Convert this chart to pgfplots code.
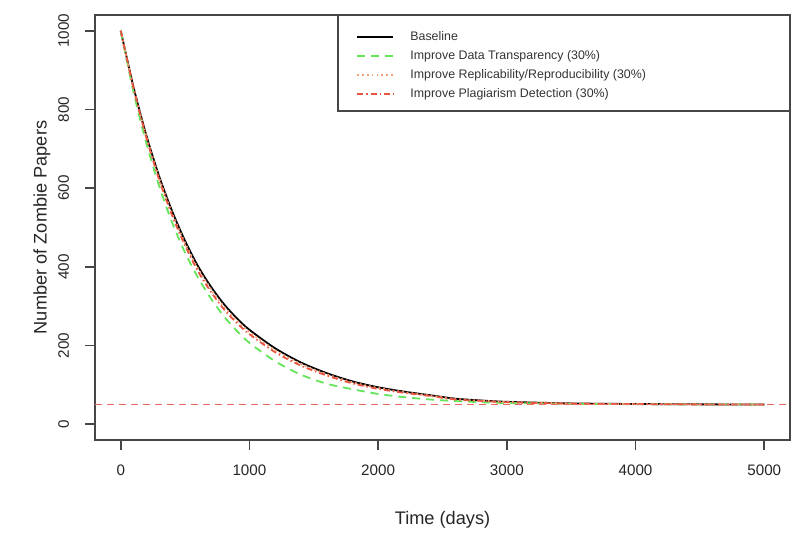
\documentclass[border=0pt]{standalone}
\usepackage{pgfplots}
\pgfplotsset{compat=1.18}
\usepackage{fontspec}
\setmainfont{Liberation Sans}
\definecolor{boxgray}{RGB}{70,70,70}
\definecolor{cgreen}{RGB}{100,228,90}
\definecolor{corange}{RGB}{248,160,115}
\definecolor{cred}{RGB}{232,85,65}
\definecolor{chline}{RGB}{236,105,100}

\begin{document}
\begin{tikzpicture}
\path[use as bounding box] (-47.5pt,-47pt) rectangle (348.5pt,220pt);
\begin{axis}[
  at={(0,0)}, anchor=south west,
  scale only axis, width=347.5pt, height=212.5pt,
  xmin=-200, xmax=5200, ymin=-40, ymax=1040,
  axis line style={boxgray, line width=0.8pt},
  tick style={boxgray, line width=0.8pt},
  tick align=outside, major tick length=5pt,
  xtick pos=lower, ytick pos=left,
  xtick={0,1000,2000,3000,4000,5000},
  ytick={0,200,400,600,800,1000},
  /pgf/number format/assume math mode=true,
  /pgf/number format/set thousands separator={},
  ticklabel style={font=\fontsize{7.6}{9}\selectfont, text=black!85},
  xticklabel style={yshift=-4pt},
  yticklabel style={rotate=90, anchor=south},
  yticklabel shift=4.5pt,
  xlabel={Time (days)},
  ylabel={Number of Zombie Papers},
  label style={font=\fontsize{9.1}{10}\selectfont, text=black!85},
  xlabel style={at={(axis description cs:0.5,-0.188)}, anchor=center},
  ylabel style={at={(axis description cs:-0.0763,0.5)}, anchor=center, rotate=0},
  legend style={draw=none, fill=none, inner sep=0pt,
    at={(axis description cs:0.3755,0.964)}, anchor=north west,
    font=\fontsize{6.2}{7}\selectfont, text=black!80,
    nodes={inner sep=0pt, text height=4.7pt, text depth=1.3pt},
    row sep=3.5pt, column sep=8pt},
  legend cell align=left,
  legend image code/.code={\draw[#1] (0pt,0pt) -- (18pt,0pt);},
]
\addplot[black, line width=0.9pt, smooth] table {
t N
0 1000
100 856
200 733
300 629
400 541
500 466
600 402
700 350
800 306
900 270
1000 240
1200 193
1400 157
1600 130
1800 109
2000 94
2200 83
2400 74
2600 65
2800 60.5
3000 57
3500 53
4000 51.5
4500 50.6
5000 50.2
};
\addlegendentry{Baseline}
\addplot[cgreen, line width=0.9pt, dash pattern=on 4pt off 3pt, smooth] table {
t N
0 1000
100 843
200 713
300 604
400 512
500 436
600 373
700 320
800 275
900 238
1000 207
1200 160
1400 126
1600 103
1800 89
2000 77
2200 69
2400 63
2600 59
2800 56
3000 54
3500 52
4000 51
4500 50.4
5000 50.1
};
\addlegendentry{Improve Data Transparency (30\%)}
\addplot[corange, line width=1pt, dash pattern=on 0.8pt off 1.6pt, smooth] table {
t N
0 1000
100 854.5
200 730
300 624.5
400 535.5
500 460
600 395.5
700 343.5
800 299.5
900 264
1000 234.5
1200 188
1400 153
1600 127
1800 106.5
2000 92
2200 81.5
2400 73
2600 64
2800 60
3000 56.5
3500 52.8
4000 51.4
4500 50.5
5000 50.1
};
\addlegendentry{Improve Replicability/Reproducibility (30\%)}
\addplot[cred, line width=0.9pt, dash pattern=on 3pt off 1.5pt on 0.7pt off 1.5pt, smooth] table {
t N
0 1000
100 853
200 727
300 620
400 530
500 454
600 389
700 337
800 293
900 258
1000 229
1200 183
1400 149
1600 124
1800 104
2000 90
2200 80
2400 72
2600 63
2800 59.5
3000 56
3500 52.5
4000 51.3
4500 50.5
5000 50.1
};
\addlegendentry{Improve Plagiarism Detection (30\%)}
\addplot[chline, line width=0.8pt, dash pattern=on 3.5pt off 2.5pt, forget plot] coordinates {(-200,50) (5200,50)};
\draw[boxgray, line width=0.7pt] (axis description cs:0.3496,1) rectangle (axis description cs:1,0.774);
\end{axis}
\end{tikzpicture}
\end{document}
